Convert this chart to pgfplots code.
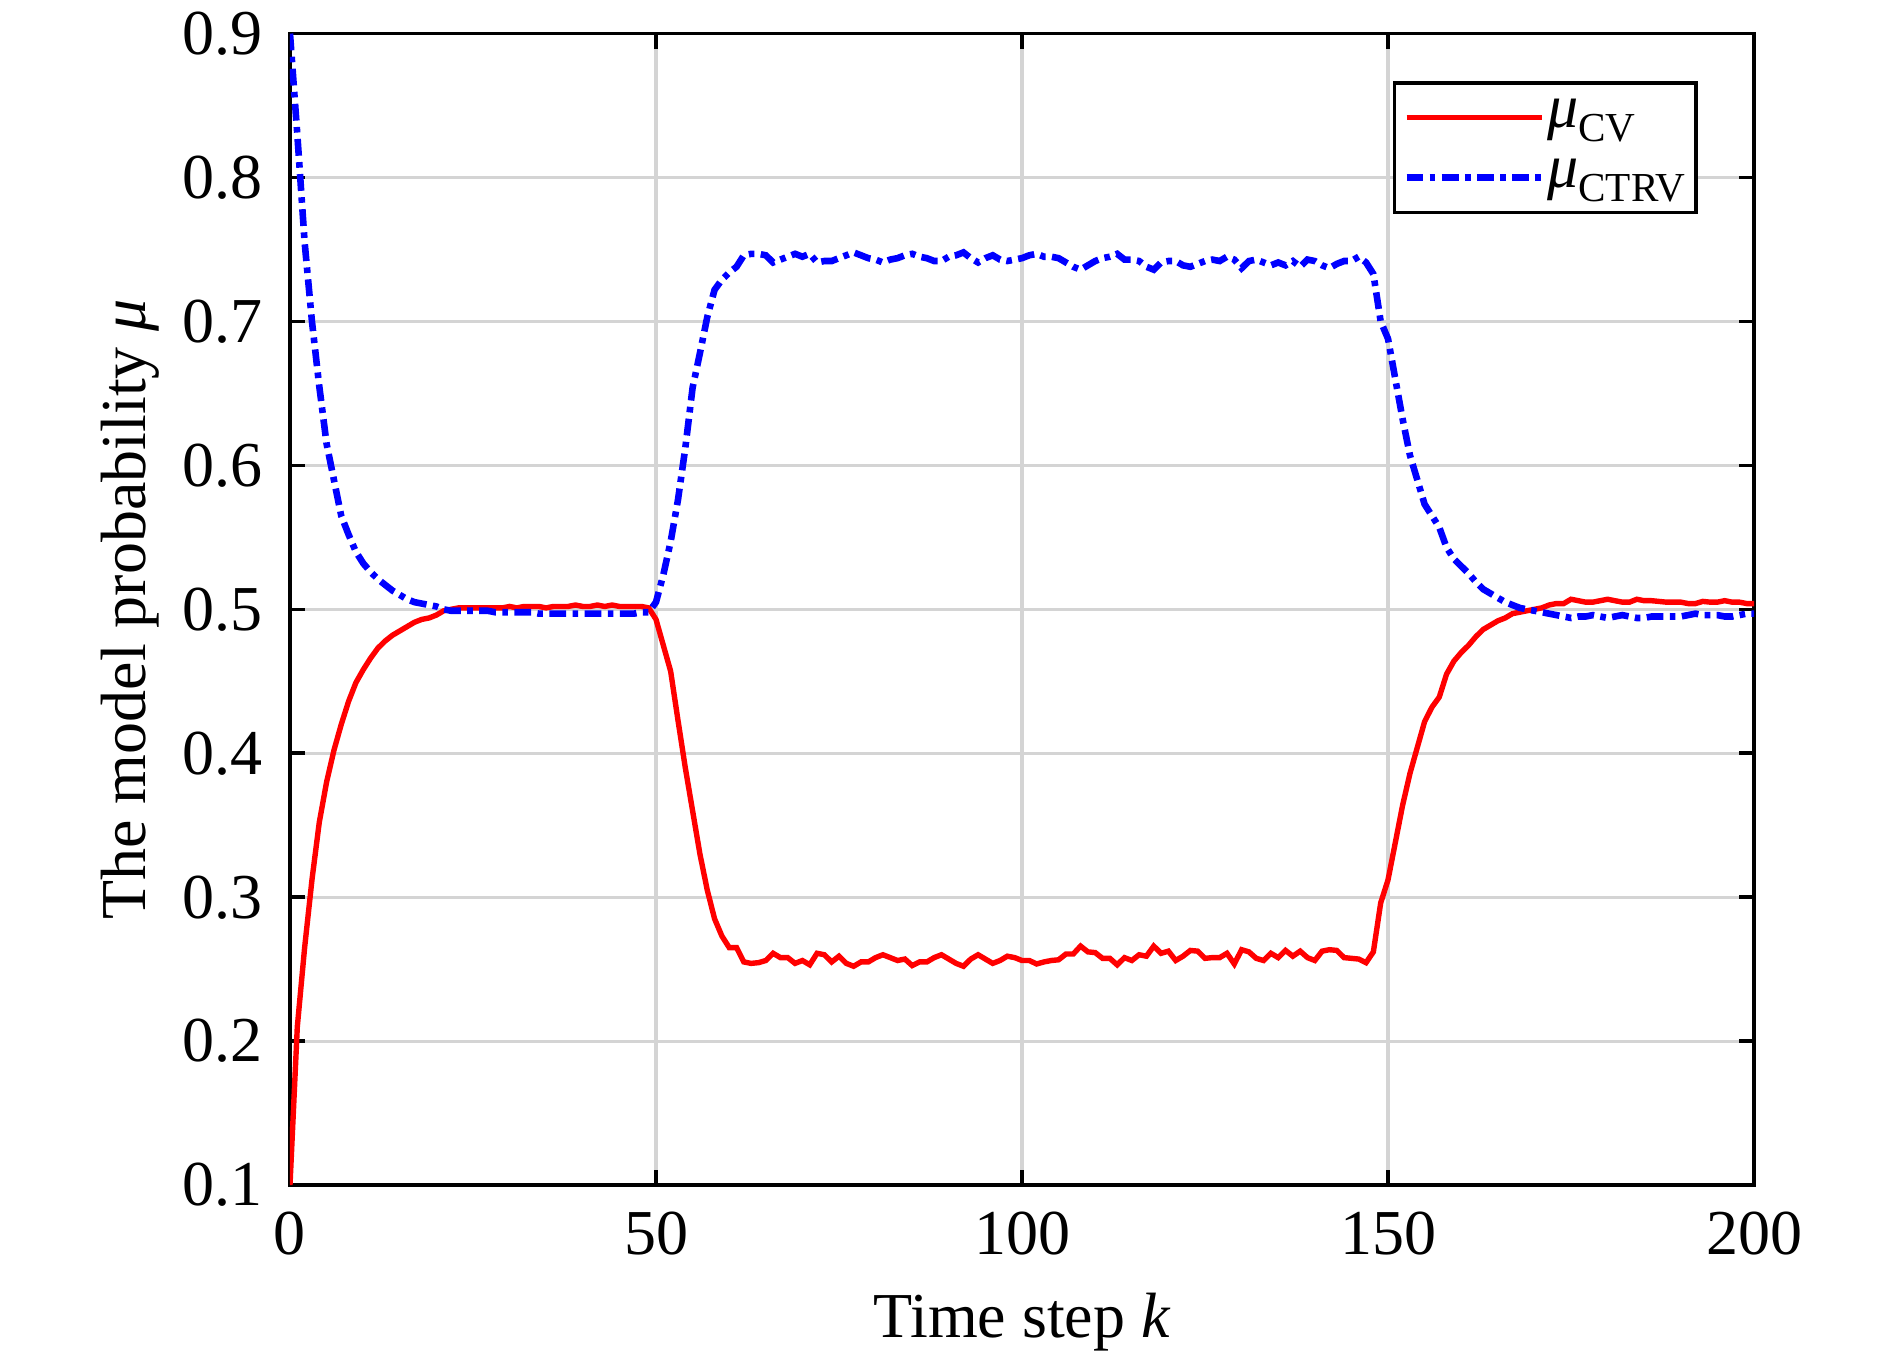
\documentclass[border=0pt]{standalone}
\usepackage{fontspec}
\setmainfont{Liberation Serif}
\usepackage{pgfplots}
\pgfplotsset{compat=1.18}
\definecolor{mred}{rgb}{1,0,0}
\definecolor{mblue}{rgb}{0,0,1}
\begin{document}
\begin{tikzpicture}
\path[use as bounding box] (-72.5pt,-42pt) rectangle (400pt,296.25pt);
\begin{axis}[
  at={(0pt,0pt)}, anchor=south west,
  scale only axis, width=366pt, height=287.85pt,
  xmin=0, xmax=200, ymin=0.1, ymax=0.9,
  xtick={0,50,100,150,200},
  ytick={0.1,0.2,0.3,0.4,0.5,0.6,0.7,0.8,0.9},
  tick align=inside, major tick length=3.75pt,
  every tick/.style={black, line width=0.9pt},
  axis line style={line width=0.9pt},
  grid=major, major grid style={black!17, line width=0.8pt},
  font=\fontsize{16}{19}\selectfont,
  /pgf/number format/assume math mode=true,
  yticklabel={\pgfmathprintnumber[fixed,fixed zerofill,precision=1,assume math mode=true]{\tick}},
  yticklabel style={inner sep=0pt, anchor=east, xshift=-6.75pt},
  xticklabel style={inner sep=0pt, anchor=north, yshift=-6.5pt},
  xlabel={Time step \textit{k}},
  ylabel={The model probability \textit{μ}},
  xlabel style={at={(axis description cs:0.5,0)}, anchor=north, inner sep=0pt, yshift=-26.8pt},
  ylabel style={at={(axis description cs:0,0.5)}, rotate=0, anchor=south, inner sep=0pt, yshift=32.5pt},
  legend style={at={(axis description cs:0.9617,0.9588)}, anchor=north east,
    draw=black, line width=0.9pt, fill=white, inner xsep=2.2pt, inner ysep=1.2pt, row sep=0pt,
    font=\fontsize{15.5}{18}\selectfont,
    nodes={inner sep=0.6pt, text height=9.3pt, text depth=4.5pt}},
  legend cell align=left,
  legend image code/.code={\draw[#1] (0pt,0pt) -- (33.75pt,0pt);},
]
\addplot[mred, line width=1.35pt] coordinates {
(0,0.100) (1,0.210) (2,0.265) (3,0.312) (4,0.352) (5,0.380) (6,0.402) (7,0.420) (8,0.436) (9,0.449)
(10,0.458) (11,0.466) (12,0.473) (13,0.478) (14,0.482) (15,0.485) (16,0.488) (17,0.491) (18,0.493) (19,0.494)
(20,0.496) (21,0.499) (22,0.500) (23,0.501) (24,0.501) (25,0.501) (26,0.501) (27,0.501) (28,0.501) (29,0.501)
(30,0.502) (31,0.501) (32,0.502) (33,0.502) (34,0.502) (35,0.501) (36,0.502) (37,0.502) (38,0.502) (39,0.503)
(40,0.502) (41,0.502) (42,0.503) (43,0.502) (44,0.503) (45,0.502) (46,0.502) (47,0.502) (48,0.502) (49,0.501)
(50,0.493) (51,0.475) (52,0.457) (53,0.423) (54,0.390) (55,0.360) (56,0.330) (57,0.305) (58,0.285) (59,0.273)
(60,0.265) (61,0.265) (62,0.255) (63,0.254) (64,0.2545) (65,0.256) (66,0.261) (67,0.258) (68,0.258) (69,0.254)
(70,0.256) (71,0.253) (72,0.261) (73,0.260) (74,0.255) (75,0.259) (76,0.254) (77,0.252) (78,0.255) (79,0.255)
(80,0.258) (81,0.260) (82,0.258) (83,0.256) (84,0.257) (85,0.2525) (86,0.255) (87,0.255) (88,0.258) (89,0.260)
(90,0.257) (91,0.254) (92,0.252) (93,0.257) (94,0.260) (95,0.257) (96,0.254) (97,0.256) (98,0.259) (99,0.258)
(100,0.256) (101,0.256) (102,0.2536) (103,0.255) (104,0.256) (105,0.2565) (106,0.2605) (107,0.2605) (108,0.266) (109,0.262)
(110,0.2615) (111,0.2575) (112,0.2575) (113,0.253) (114,0.258) (115,0.256) (116,0.260) (117,0.259) (118,0.266) (119,0.261)
(120,0.2625) (121,0.256) (122,0.259) (123,0.263) (124,0.2625) (125,0.2575) (126,0.258) (127,0.258) (128,0.261) (129,0.2536)
(130,0.2635) (131,0.262) (132,0.2575) (133,0.256) (134,0.261) (135,0.258) (136,0.263) (137,0.259) (138,0.2625) (139,0.258)
(140,0.256) (141,0.2625) (142,0.2635) (143,0.263) (144,0.258) (145,0.2575) (146,0.257) (147,0.2545) (148,0.262) (149,0.296)
(150,0.312) (151,0.338) (152,0.364) (153,0.386) (154,0.404) (155,0.422) (156,0.432) (157,0.439) (158,0.455) (159,0.464)
(160,0.470) (161,0.475) (162,0.481) (163,0.486) (164,0.489) (165,0.492) (166,0.494) (167,0.497) (168,0.498) (169,0.499)
(170,0.500) (171,0.501) (172,0.503) (173,0.504) (174,0.504) (175,0.507) (176,0.506) (177,0.505) (178,0.505) (179,0.506)
(180,0.507) (181,0.506) (182,0.505) (183,0.505) (184,0.507) (185,0.506) (186,0.506) (187,0.5055) (188,0.505) (189,0.505)
(190,0.505) (191,0.504) (192,0.504) (193,0.5055) (194,0.505) (195,0.505) (196,0.506) (197,0.505) (198,0.505) (199,0.504)
(200,0.504)
};
\addlegendentry{\textit{μ}\raisebox{-3.6pt}{\fontsize{10.3}{10.3}\selectfont CV}}
\addplot[mblue, line width=1.65pt, dash pattern=on 4.2pt off 1.6pt on 1.4pt off 1.6pt] coordinates {
(0,0.900) (1,0.830) (2,0.755) (3,0.700) (4,0.655) (5,0.615) (6,0.590) (7,0.565) (8,0.552) (9,0.540)
(10,0.532) (11,0.526) (12,0.521) (13,0.517) (14,0.513) (15,0.510) (16,0.507) (17,0.505) (18,0.504) (19,0.503)
(20,0.502) (21,0.500) (22,0.499) (23,0.499) (24,0.499) (25,0.499) (26,0.499) (27,0.499) (28,0.498) (29,0.498)
(30,0.498) (31,0.498) (32,0.498) (33,0.498) (34,0.497) (35,0.497) (36,0.497) (37,0.497) (38,0.497) (39,0.497)
(40,0.497) (41,0.497) (42,0.497) (43,0.497) (44,0.497) (45,0.497) (46,0.497) (47,0.497) (48,0.498) (49,0.498)
(50,0.505) (51,0.524) (52,0.547) (53,0.576) (54,0.612) (55,0.654) (56,0.678) (57,0.703) (58,0.722) (59,0.729)
(60,0.734) (61,0.738) (62,0.746) (63,0.747) (64,0.747) (65,0.746) (66,0.741) (67,0.743) (68,0.745) (69,0.747)
(70,0.745) (71,0.747) (72,0.741) (73,0.742) (74,0.742) (75,0.744) (76,0.746) (77,0.748) (78,0.746) (79,0.744)
(80,0.743) (81,0.741) (82,0.743) (83,0.744) (84,0.746) (85,0.747) (86,0.745) (87,0.744) (88,0.742) (89,0.742)
(90,0.745) (91,0.746) (92,0.748) (93,0.744) (94,0.741) (95,0.744) (96,0.746) (97,0.743) (98,0.742) (99,0.743)
(100,0.744) (101,0.746) (102,0.747) (103,0.745) (104,0.745) (105,0.744) (106,0.741) (107,0.738) (108,0.736) (109,0.739)
(110,0.742) (111,0.744) (112,0.745) (113,0.747) (114,0.743) (115,0.743) (116,0.742) (117,0.738) (118,0.736) (119,0.741)
(120,0.742) (121,0.742) (122,0.739) (123,0.738) (124,0.740) (125,0.742) (126,0.743) (127,0.742) (128,0.745) (129,0.743)
(130,0.737) (131,0.742) (132,0.743) (133,0.741) (134,0.739) (135,0.741) (136,0.739) (137,0.742) (138,0.738) (139,0.743)
(140,0.742) (141,0.739) (142,0.737) (143,0.740) (144,0.742) (145,0.742) (146,0.745) (147,0.741) (148,0.733) (149,0.700)
(150,0.688) (151,0.660) (152,0.632) (153,0.607) (154,0.590) (155,0.573) (156,0.565) (157,0.557) (158,0.543) (159,0.535)
(160,0.530) (161,0.525) (162,0.519) (163,0.514) (164,0.511) (165,0.508) (166,0.505) (167,0.503) (168,0.501) (169,0.500)
(170,0.499) (171,0.498) (172,0.497) (173,0.496) (174,0.495) (175,0.494) (176,0.495) (177,0.495) (178,0.496) (179,0.495)
(180,0.494) (181,0.495) (182,0.496) (183,0.495) (184,0.494) (185,0.494) (186,0.495) (187,0.495) (188,0.495) (189,0.495)
(190,0.495) (191,0.496) (192,0.497) (193,0.496) (194,0.496) (195,0.496) (196,0.495) (197,0.495) (198,0.496) (199,0.497)
(200,0.497)
};
\addlegendentry{\textit{μ}\raisebox{-3.6pt}{\fontsize{10.3}{10.3}\selectfont CTRV}}
\end{axis}
\end{tikzpicture}
\end{document}
